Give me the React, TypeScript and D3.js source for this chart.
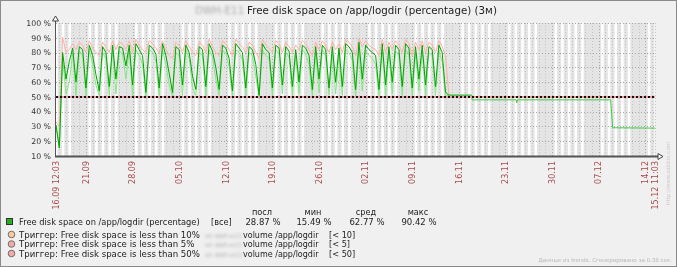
import React from 'react';
import * as d3 from 'd3';

const W = 677;
const H = 267;

// Time range of the graph (3 months of trends)
const startTime = Date.UTC(2020, 8, 16, 12, 3);
const endTime = Date.UTC(2020, 11, 15, 11, 3);
const stepHours = 12;

// Trend values (12-hour buckets from the start), percentage free space
const avgValues = [
  31, 15.5, 80, 62, 74, 83, 60, 84, 82, 56,
  85, 78, 65, 54, 84, 80, 57, 85, 62, 84,
  83, 71, 85, 58, 86, 82, 78, 53, 85, 83,
  79, 56, 86, 78, 66, 53, 84, 82, 58, 85,
  80, 64, 55, 84, 82, 57, 86, 81, 70, 55,
  85, 83, 76, 54, 86, 83, 80, 56, 84, 82,
  72, 51, 86, 82, 80, 56, 85, 83, 58, 84,
  81, 57, 82, 60, 85, 83, 78, 55, 84, 62,
  85, 82, 56, 84, 60, 83, 57, 86, 84, 80,
  55, 87, 62, 85, 82, 80, 78, 55, 86, 58,
  84, 60, 85, 82, 57, 86, 83, 56, 84, 62,
  85, 58, 84, 82, 57, 85, 80, 53,
];
const minValues = [
  30, 15.49, 76, 52, 60, 80, 51, 81, 78, 50.5,
  82, 72, 58, 51, 80, 76, 51, 82, 52, 81,
  79, 62, 82, 51, 82, 78, 72, 50.5, 82, 80,
  74, 51, 82, 72, 58, 50.5, 80, 78, 51, 82,
  76, 56, 51, 80, 78, 51, 82, 77, 62, 51,
  81, 80, 70, 50.5, 82, 80, 75, 51, 80, 78,
  64, 50, 82, 78, 76, 51, 82, 79, 52, 80,
  77, 51, 78, 52, 82, 79, 72, 50.5, 80, 53,
  82, 78, 51, 80, 52, 79, 51, 82, 80, 75,
  50.5, 83, 54, 81, 78, 76, 72, 51, 82, 51,
  80, 52, 81, 78, 51, 82, 79, 50.5, 80, 54,
  81, 51, 80, 78, 51, 81, 74, 50.5,
];
const maxValues = [
  33, 30, 90.42, 80, 82, 86, 82, 87, 85, 80,
  88, 83, 80, 78, 87, 84, 80, 88, 82, 87,
  86, 82, 88, 80, 89, 85, 82, 80, 88, 86,
  83, 80, 88, 82, 78, 76, 87, 85, 80, 88,
  84, 80, 78, 87, 85, 80, 89, 84, 80, 78,
  88, 86, 82, 78, 89, 86, 84, 80, 87, 85,
  80, 76, 89, 85, 83, 80, 88, 86, 80, 87,
  84, 80, 85, 82, 88, 86, 82, 78, 87, 82,
  88, 85, 80, 87, 82, 86, 80, 89, 87, 84,
  78, 90, 84, 88, 85, 83, 82, 78, 89, 80,
  87, 82, 88, 85, 80, 89, 86, 78, 87, 82,
  88, 80, 87, 85, 80, 88, 84, 78,
];

// After the oscillating period: flat segments (days since start, value)
const tailDaysA = [59, 62.4];
const tailValuesA = [51.2, 51.2];
const tailDaysB = [62.5, 69.1, 69.2, 69.3, 83.3, 83.6, 89.958];
const tailValuesB = [48, 48, 46, 48, 48, 29.1, 28.87];

const yTicks = [10, 20, 30, 40, 50, 60, 70, 80, 90, 100];
const weekLabels = ['21.09', '28.09', '05.10', '12.10', '19.10', '26.10', '02.11', '09.11', '16.11', '23.11', '30.11', '07.12', '14.12'];
const startLabel = '16.09 12:03';
const endLabel = '15.12 11:03';

const workDays = [1, 2, 3, 4, 5];
const workHours = [9, 18];

const seriesName = 'Free disk space on /app/logdir (percentage)';
const statHeaders = ['посл', 'мин', 'сред', 'макс'];
const statValues = ['28.87 %', '15.49 %', '62.77 %', '90.42 %'];
const triggerPercents = ['10%', '5%', '50%'];
const triggerConditions = ['[< 10]', '[< 5]', '[< 50]'];
const triggerColors = ['#f7c99c', '#f2aaaa', '#f2aaaa'];
const triggerLevel = 50;

const FONT = 'DejaVu Sans';
const HOUR = 3600 * 1000;
const DAY = 24 * HOUR;

export default function App() {
  const plotL = 56;
  const plotR = 655;
  const plotT = 23;
  const plotB = 156;

  const x = d3.scaleUtc().domain([new Date(startTime), new Date(endTime)]).range([plotL, plotR]);
  const y = d3.scaleLinear().domain([10, 100]).range([plotB, plotT]);

  type P = { t: number; v: number };
  const bucketTimes = avgValues.map((_, i) => startTime + i * stepHours * HOUR);
  const avgPts: P[] = avgValues.map((v, i) => ({ t: bucketTimes[i], v }));
  const minPts: P[] = minValues.map((v, i) => ({ t: bucketTimes[i], v }));
  const maxPts: P[] = maxValues.map((v, i) => ({ t: bucketTimes[i], v }));
  const tailA: P[] = tailDaysA.map((d, i) => ({ t: startTime + d * DAY, v: tailValuesA[i] }));
  const tailB: P[] = tailDaysB.map((d, i) => ({ t: startTime + d * DAY, v: tailValuesB[i] }));

  const line = d3
    .line<P>()
    .x((d) => x(new Date(d.t)))
    .y((d) => y(d.v));

  const days = d3.utcDay.range(d3.utcDay.floor(new Date(startTime)), new Date(endTime));
  const workRects = days
    .filter((d) => workDays.includes(d.getUTCDay()))
    .map((d) => {
      const a = Math.max(x(new Date(d.getTime() + workHours[0] * HOUR)), plotL);
      const b = Math.min(x(new Date(d.getTime() + workHours[1] * HOUR)), plotR);
      return { a, b };
    })
    .filter((r) => r.b > r.a);

  const midnights = d3.utcDay.range(d3.utcDay.ceil(new Date(startTime)), new Date(endTime));
  const mondays = d3.utcMonday.range(new Date(startTime), new Date(endTime));

  const avgMain = [...avgPts, tailA[0]];
  const minMain = [...minPts, tailA[0]];
  const maxMain = [...maxPts, tailA[0]];
  const tailBFull = [tailA[tailA.length - 1], ...tailB];

  const green = '#00a400';
  const lightGreen = '#80ea80';
  const pink = '#ffb2a4';
  const labelRed = '#a94a4a';

  const statX = [262, 313, 366, 418];
  const LF = 8.2;

  return (
    <div style={{ position: 'fixed', left: 0, top: 0 }}>
      <svg width={W} height={H} style={{ display: 'block' }} fontFamily={FONT}>
        <defs>
          <filter id="blur" x="-20%" y="-50%" width="140%" height="200%">
            <feGaussianBlur stdDeviation="1.6" />
          </filter>
          <clipPath id="plotClip">
            <rect x={plotL} y={plotT - 2} width={plotR - plotL} height={plotB - plotT + 2} />
          </clipPath>
        </defs>
        <rect x={0.5} y={0.5} width={W - 1} height={H - 1} fill="#f0f0f0" stroke="#8a8a8a" />

        {/* title */}
        <text x={195} y={14} fontSize={10.3} fill="#aaa" filter="url(#blur)">DWH-E11</text>
        <text x={247} y={14} fontSize={10.3} fill="#222">
          {seriesName + ' (3м)'}
        </text>

        {/* plot background: non-working time grey, working time white */}
        <rect x={plotL} y={plotT} width={plotR - plotL} height={plotB - plotT} fill="#e4e4e4" />
        {workRects.map((r, i) => (
          <rect key={i} x={r.a} y={plotT} width={r.b - r.a} height={plotB - plotT} fill="#ffffff" />
        ))}

        {/* grid */}
        {midnights.map((d, i) => (
          <line key={'v' + i} x1={Math.round(x(d)) + 0.5} x2={Math.round(x(d)) + 0.5} y1={plotT} y2={plotB}
            stroke="#c4c4c4" strokeDasharray="1,2" />
        ))}
        {mondays.map((d, i) => (
          <line key={'m' + i} x1={Math.round(x(d)) + 0.5} x2={Math.round(x(d)) + 0.5} y1={plotT} y2={plotB}
            stroke="#a8a8a8" strokeDasharray="1,2" />
        ))}
        {yTicks.map((t) => (
          <line key={'h' + t} x1={plotL} x2={plotR} y1={Math.round(y(t)) + 0.5} y2={Math.round(y(t)) + 0.5}
            stroke="#a8a8a8" strokeDasharray="1,2" />
        ))}
        <line x1={plotR + 0.5} x2={plotR + 0.5} y1={plotT} y2={plotB} stroke="#c4c4c4" strokeDasharray="1,2" />

        {/* data */}
        <g clipPath="url(#plotClip)" fill="none">
          <path d={line(maxMain) || ''} stroke={pink} strokeWidth={1} />
          <path d={line(minMain) || ''} stroke={lightGreen} strokeWidth={1} />
          <path d={line(avgMain) || ''} stroke={green} strokeWidth={1} />
          <path d={line(tailA) || ''} stroke={green} strokeWidth={1} />
          <path d={line(tailBFull) || ''} stroke="#3fcc3f" strokeWidth={1} />
        </g>

        {/* trigger line */}
        <line x1={plotL} x2={plotR} y1={y(triggerLevel)} y2={y(triggerLevel)} stroke="#f0a0a0" strokeWidth={2} />
        <line x1={plotL} x2={plotR} y1={y(triggerLevel)} y2={y(triggerLevel)} stroke="#111" strokeWidth={2} strokeDasharray="2,2" />

        {/* axes */}
        <line x1={plotL - 0.5} x2={plotL - 0.5} y1={19} y2={plotB + 1} stroke="#555" />
        <path d={`M${plotL - 3.5},${21} L${plotL - 0.5},${16} L${plotL + 2.5},${21} Z`} fill="#fff" stroke="#444" />
        <line x1={plotL - 1} x2={plotR + 5} y1={plotB + 0.5} y2={plotB + 0.5} stroke="#555" strokeWidth={2} />
        <path d={`M${plotR + 3},${plotB - 2.5} L${plotR + 8},${plotB + 0.5} L${plotR + 3},${plotB + 3.5} Z`} fill="#fff" stroke="#444" />

        {/* y labels */}
        {yTicks.map((t) => (
          <text key={'yl' + t} x={51} y={y(t)} dy="0.35em" fontSize={7.8} fill="#333" textAnchor="end">
            {t + ' %'}
          </text>
        ))}

        {/* x labels */}
        {[{ d: new Date(startTime), s: startLabel }, ...mondays.map((d, i) => ({ d, s: weekLabels[i] })), { d: new Date(endTime), s: endLabel }].map(
          (l, i) => (
            <text key={'xl' + i} transform={`translate(${x(l.d)},${plotB + 5}) rotate(-90)`} fontSize={8} fill={labelRed}
              textAnchor="end" dy="0.35em">
              {l.s}
            </text>
          )
        )}

        {/* vertical copyright */}
        <text transform={`translate(670,205) rotate(-90)`} fontSize={5.5} fill="#c8c8c8">http://www.zabbix.com</text>

        {/* legend */}
        {statHeaders.map((s, i) => (
          <text key={'sh' + i} x={statX[i]} y={215} fontSize={LF} fill="#222" textAnchor="middle">{s}</text>
        ))}
        <rect x={6.5} y={218.5} width={6} height={6} fill="#22b022" stroke="#333" />
        <text x={19} y={225} fontSize={8.3} fill="#222">{seriesName}</text>
        <text x={211} y={225} fontSize={LF} fill="#222">[все]</text>
        {statValues.map((s, i) => (
          <text key={'sv' + i} x={statX[i] + 1} y={225} fontSize={8.5} fill="#222" textAnchor="middle">{s}</text>
        ))}
        {triggerPercents.map((p, i) => {
          const yy = 237.5 + i * 9.5;
          return (
            <g key={'tr' + i}>
              <circle cx={11.5} cy={yy - 3} r={3.3} fill={triggerColors[i]} stroke="#555" strokeWidth={0.8} />
              <text x={19} y={yy} fontSize={8.6} fill="#222">{`Триггер: Free disk space is less than ${p}`}</text>
              <text x={205} y={yy} fontSize={6.3} fill="#aaa" filter="url(#blur)">on dwh-e11</text>
              <text x={243} y={yy} fontSize={8} fill="#222">volume /app/logdir</text>
              <text x={329} y={yy} fontSize={LF} fill="#222">{triggerConditions[i]}</text>
            </g>
          );
        })}
        <text x={672} y={262} fontSize={5.5} fill="#b8b8b8" textAnchor="end">Данные из trends. Сгенерировано за 0.38 сек.</text>
      </svg>
    </div>
  );
}
